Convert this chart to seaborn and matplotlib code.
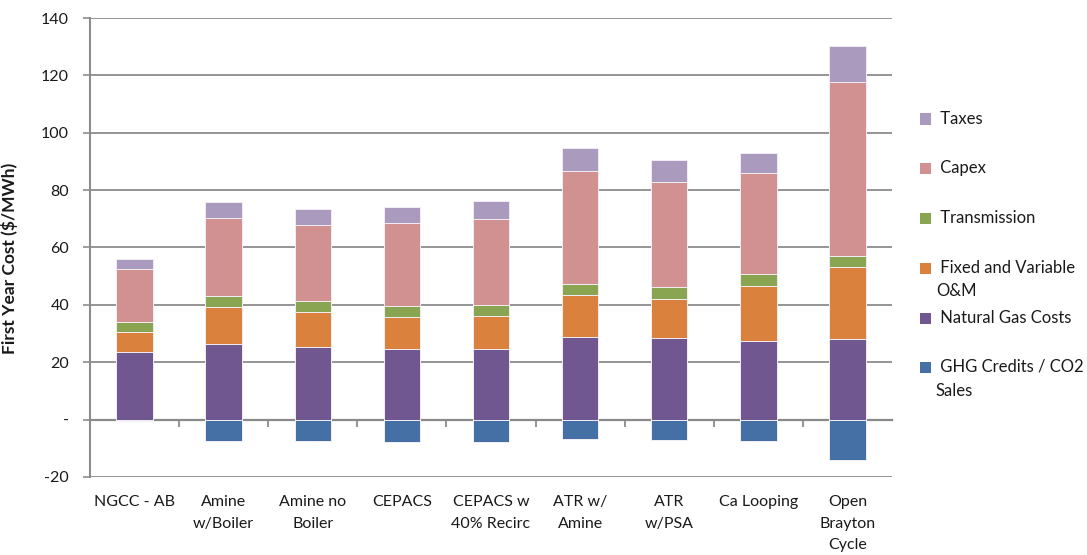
import numpy as np
import pandas as pd
import matplotlib
matplotlib.use("Agg")
import matplotlib.pyplot as plt
from matplotlib.patches import Rectangle
from matplotlib.ticker import FuncFormatter
import seaborn as sns

# Cost components per technology ($/MWh), stacked bottom to top
categories = ["NGCC - AB", "Amine\nw/Boiler", "Amine no\nBoiler", "CEPACS",
              "CEPACS w\n40% Recirc", "ATR w/\nAmine", "ATR\nw/PSA",
              "Ca Looping", "Open\nBrayton\nCycle"]
natural_gas = [23.4, 26.5, 25.4, 24.7, 24.7, 28.9, 28.6, 27.5, 28.2]
fixed_om = [7.0, 12.7, 12.2, 11.1, 11.4, 14.5, 13.6, 19.2, 24.9]
transmission = [3.7, 3.8, 3.9, 3.9, 4.0, 3.9, 4.0, 4.0, 3.9]
capex = [18.3, 27.3, 26.3, 28.7, 29.8, 39.4, 36.7, 35.1, 60.8]
taxes = [3.7, 5.7, 5.5, 5.8, 6.2, 7.9, 7.5, 7.1, 12.4]
ghg_credits = [0.0, -7.6, -7.6, -7.8, -7.8, -6.8, -7.0, -7.3, -14.2]

series_names = ["Natural Gas Costs", "Fixed and Variable O&M", "Transmission",
                "Capex", "Taxes"]
series_values = [natural_gas, fixed_om, transmission, capex, taxes]
colors = {
    "Taxes": "#AA9ABD",
    "Capex": "#D19190",
    "Transmission": "#8AA551",
    "Fixed and Variable O&M": "#DA823D",
    "Natural Gas Costs": "#715790",
    "GHG Credits / CO2 Sales": "#4470A5",
}

sns.set_theme(style="white")
plt.rcParams["font.family"] = ["Lato", "DejaVu Sans"]

fig = plt.figure(figsize=(10.87, 5.55), dpi=100)
ax = fig.add_axes([90 / 1087, 1 - 477 / 555, 802 / 1087, 459 / 555])

ymin, ymax = -20, 140
ax.set_ylim(ymin, ymax)

# Cumulative tops, drawn from the top layer down so each layer covers the rest
df = pd.DataFrame(dict(zip(series_names, series_values)), index=categories)
cum = df.cumsum(axis=1)
bar_kw = dict(width=0.41, saturation=1, edgecolor="#F2EEF5", linewidth=0.7,
              order=categories)
for name in reversed(series_names):
    sns.barplot(x=categories, y=cum[name].values, color=colors[name], ax=ax,
                zorder=2, **bar_kw)
sns.barplot(x=categories, y=ghg_credits, color=colors["GHG Credits / CO2 Sales"],
            ax=ax, zorder=2, **bar_kw)

ax.set_xlim(-0.5, len(categories) - 0.5)
ax.set_ylim(ymin, ymax)
ax.set_yticks(np.arange(-20, 141, 20))
ax.yaxis.set_major_formatter(FuncFormatter(lambda v, p: "-" if v == 0 else f"{v:.0f}"))
ax.yaxis.grid(True, color="#8C8C8C", linewidth=1.3, zorder=0)
ax.set_axisbelow(True)

for side in ["top", "right", "bottom"]:
    ax.spines[side].set_visible(False)
ax.spines["left"].set_color("#8C8C8C")
ax.spines["left"].set_linewidth(1.5)

ax.tick_params(axis="y", which="major", left=True, direction="out", length=5,
               width=1.2, color="#8C8C8C", pad=10, labelsize=11.5, labelcolor="#1A1A1A")
ax.tick_params(axis="x", length=0, pad=13, labelsize=11.5, labelcolor="#1A1A1A")
for lbl in ax.get_xticklabels():
    lbl.set_linespacing(1.7)
    lbl.set_verticalalignment("top")

ax.set_xlabel("")
ax.set_ylabel("First Year Cost ($/MWh)", fontsize=12.5, fontweight="bold",
              color="#1A1A1A")
ax.yaxis.set_label_coords(-72 / 802, 0.477)

# Category axis crossing at zero with tick marks between categories
zero_frac = (0 - ymin) / (ymax - ymin)
sec = ax.secondary_xaxis(zero_frac)
sec.set_xticks(np.arange(0.5, len(categories) - 1, 1.0))
sec.tick_params(axis="x", direction="out", length=5, width=1.2, color="#808080",
                labelbottom=False, labeltop=False)
sec.spines["bottom"].set_color("#808080")
sec.spines["bottom"].set_linewidth(1.6)

# Legend at the right, entries evenly spaced
legend_items = [
    ("Taxes", [" Taxes"], 119),
    ("Capex", [" Capex"], 168),
    ("Transmission", [" Transmission"], 218),
    ("Fixed and Variable O&M", [" Fixed and Variable", "O&M"], 268),
    ("Natural Gas Costs", [" Natural Gas Costs"], 318),
    ("GHG Credits / CO2 Sales", [" GHG Credits / CO2", "Sales"], 367),
]
W, H = 1087, 555
for key, lines, yc in legend_items:
    fig.add_artist(Rectangle((920 / W, 1 - (yc + 5.5) / H), 11 / W, 11 / H,
                             transform=fig.transFigure, facecolor=colors[key],
                             edgecolor="none"))
    for i, line in enumerate(lines):
        fig.text(936 / W, 1 - (yc + i * 23.5) / H, line, fontsize=12,
                 color="#1A1A1A", va="center", ha="left")

fig.savefig("out.png", dpi=100)
